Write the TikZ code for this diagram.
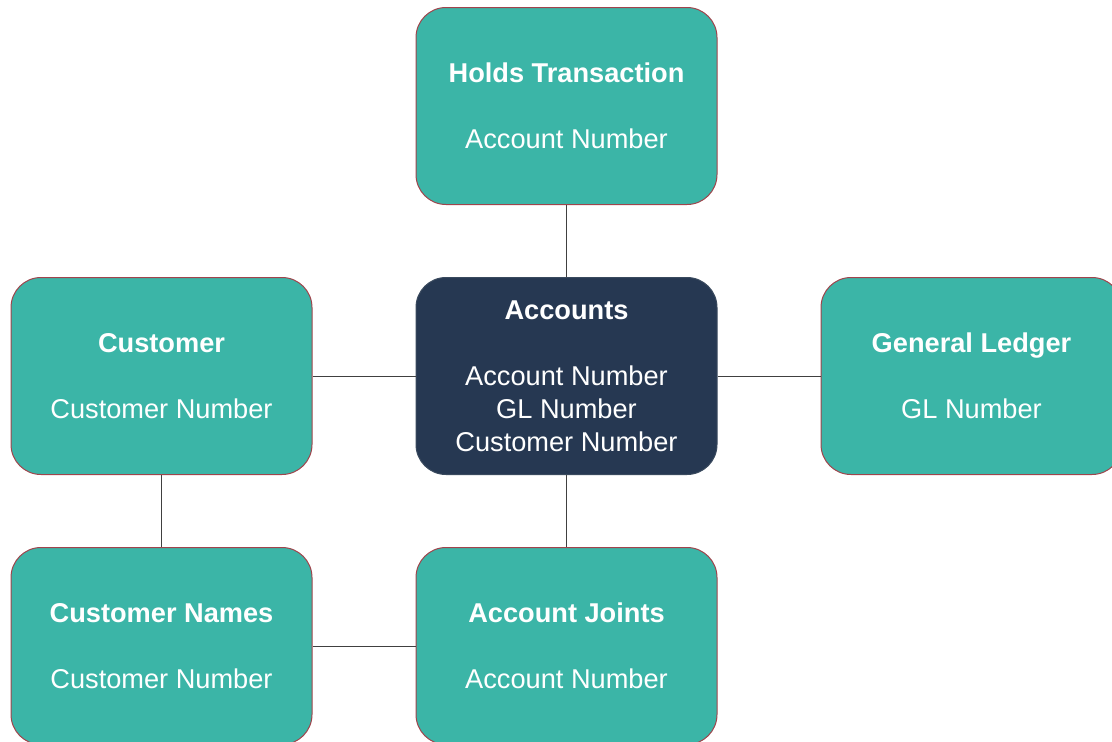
\documentclass[tikz,border=0pt]{standalone}
\usepackage{fontspec}
\setmainfont{Liberation Sans}
\definecolor{teal}{HTML}{3BB5A7}
\definecolor{tealborder}{HTML}{A0444C}
\definecolor{navy}{HTML}{263852}
\definecolor{navyborder}{HTML}{3A4A5E}
\definecolor{linec}{HTML}{404040}
\begin{document}
\begin{tikzpicture}[x=1pt,y=-1pt,
  entity/.style={draw=tealborder, fill=teal, line width=1pt, rounded corners=30pt,
    minimum width=301pt, minimum height=197pt, inner sep=0pt, text=white, align=center,
    font=\fontsize{27.2}{33}\selectfont},
  central/.style={entity, draw=navyborder, fill=navy},
  conn/.style={draw=linec, line width=0.8pt}]
\useasboundingbox (0,0) rectangle (1112,742);
\node[entity] (holds) at (566.5,106) {\textbf{Holds Transaction}\\[33pt]Account Number};
\node[central] (acc) at (566.5,376) {\textbf{Accounts}\\[33pt]Account Number\\GL Number\\Customer Number};
\node[entity] (cust) at (161.5,376) {\textbf{Customer}\\[33pt]Customer Number};
\node[entity] (gl) at (971.5,376) {\textbf{General Ledger}\\[33pt]GL Number};
\node[entity] (cnames) at (161.5,646) {\textbf{Customer Names}\\[33pt]Customer Number};
\node[entity] (joints) at (566.5,646) {\textbf{Account Joints}\\[33pt]Account Number};
\draw[conn] (holds) -- (acc);
\draw[conn] (cust) -- (acc);
\draw[conn] (acc) -- (gl);
\draw[conn] (acc) -- (joints);
\draw[conn] (cust) -- (cnames);
\draw[conn] (cnames) -- (joints);
\end{tikzpicture}
\end{document}
